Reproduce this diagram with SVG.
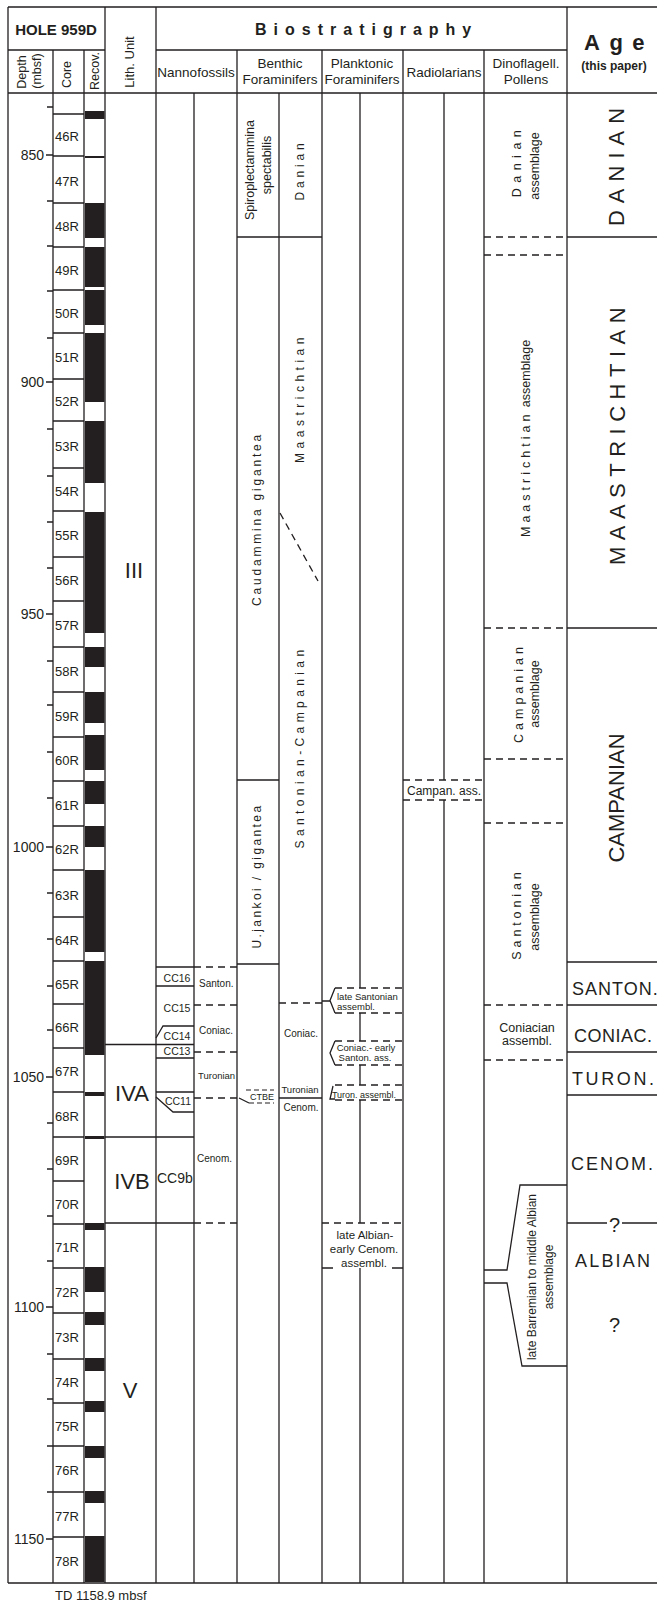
<svg xmlns="http://www.w3.org/2000/svg" width="657" height="1603" viewBox="0 0 657 1603">
<style>
.ln{stroke:#231f20;stroke-width:1.3;fill:none}
.ds{stroke:#231f20;stroke-width:1.3;fill:none;stroke-dasharray:7 5}
.blk{fill:#231f20}
.t{font-family:"Liberation Sans",Arial,sans-serif;fill:#231f20}
.b{font-weight:bold}
.m{text-anchor:middle}
.e{text-anchor:end}
</style>
<rect width="657" height="1603" fill="#fff"/>

<g id="connectors">
<path class="ln" d="M8 7H657 M8 93H657 M8 1583H657 M8 50H105 M156 50H567
M8 7V1583 M53 50V1583 M84 50V1583 M105 7V1583 M156 7V1583 M194 93V1583 M237 50V1583 M279 93V1583 M322 50V1583 M403 50V1583 M444 93V780 M444 800V1583 M484 50V1583 M567 7V1583
M360 93V988 M360 1013V1041 M360 1065V1085 M360 1100V1223 M360 1268V1583"/>
</g>

<g id="depth-scale">
<path class="ln" d="M47 107H53 M46 155H53 M47 201H53 M47 246H53 M47 291H53 M47 338H53 M46 382H53 M47 429H53 M47 476H53 M47 522H53 M47 568H53 M46 614H53 M47 661H53 M47 705H53 M47 752H53 M47 798H53 M46 847H53 M47 893H53 M47 939H53 M47 986H53 M47 1030H53 M46 1077H53 M47 1123H53 M47 1169H53 M47 1216H53 M47 1261H53 M46 1307H53 M47 1354H53 M47 1399H53 M47 1446H53 M47 1492H53 M46 1539H53"/>
<g class="t e" font-size="14">
<text x="44" y="160">850</text>
<text x="44" y="387">900</text>
<text x="44" y="619">950</text>
<text x="44" y="852">1000</text>
<text x="44" y="1082">1050</text>
<text x="44" y="1312">1100</text>
<text x="44" y="1544">1150</text>
</g>
</g>

<g id="cores">
<path class="ln" d="M53 114H84 M53 156H84 M53 203H84 M53 247H84 M53 290H84 M53 333H84 M53 379H84 M53 421H84 M53 468H84 M53 511H84 M53 557H84 M53 601H84 M53 647H84 M53 692H84 M53 737H84 M53 781H84 M53 826H84 M53 870H84 M53 917H84 M53 961H84 M53 1004H84 M53 1048H84 M53 1092H84 M53 1137H84 M53 1181H84 M53 1224H84 M53 1268H84 M53 1313H84 M53 1359H84 M53 1403H84 M53 1446H84 M53 1492H84 M53 1537H84"/>
<g class="t" font-size="13">
<text x="55" y="141">46R</text>
<text x="55" y="185.5">47R</text>
<text x="55" y="231">48R</text>
<text x="55" y="274.5">49R</text>
<text x="55" y="317.5">50R</text>
<text x="55" y="362">51R</text>
<text x="55" y="406">52R</text>
<text x="55" y="450.5">53R</text>
<text x="55" y="495.5">54R</text>
<text x="55" y="540">55R</text>
<text x="55" y="585">56R</text>
<text x="55" y="630">57R</text>
<text x="55" y="675.5">58R</text>
<text x="55" y="720.5">59R</text>
<text x="55" y="765">60R</text>
<text x="55" y="809.5">61R</text>
<text x="55" y="854">62R</text>
<text x="55" y="899.5">63R</text>
<text x="55" y="945">64R</text>
<text x="55" y="988.5">65R</text>
<text x="55" y="1032">66R</text>
<text x="55" y="1076">67R</text>
<text x="55" y="1120.5">68R</text>
<text x="55" y="1165">69R</text>
<text x="55" y="1208.5">70R</text>
<text x="55" y="1252">71R</text>
<text x="55" y="1296.5">72R</text>
<text x="55" y="1342">73R</text>
<text x="55" y="1387">74R</text>
<text x="55" y="1430.5">75R</text>
<text x="55" y="1475">76R</text>
<text x="55" y="1520.5">77R</text>
<text x="55" y="1566">78R</text>
</g>
</g>

<g id="recovery" class="blk">
<rect x="85" y="111" width="19.5" height="8"/>
<rect x="85" y="156" width="19.5" height="2"/>
<rect x="85" y="203" width="19.5" height="35"/>
<rect x="85" y="247" width="19.5" height="40"/>
<rect x="85" y="290" width="19.5" height="35"/>
<rect x="85" y="333" width="19.5" height="69"/>
<rect x="85" y="421" width="19.5" height="62"/>
<rect x="85" y="512" width="19.5" height="121"/>
<rect x="85" y="647" width="19.5" height="20"/>
<rect x="85" y="692" width="19.5" height="31"/>
<rect x="85" y="735" width="19.5" height="35"/>
<rect x="85" y="781" width="19.5" height="23"/>
<rect x="85" y="826" width="19.5" height="21"/>
<rect x="85" y="870" width="19.5" height="82"/>
<rect x="85" y="961" width="19.5" height="94"/>
<rect x="85" y="1092" width="19.5" height="4"/>
<rect x="85" y="1136" width="19.5" height="3"/>
<rect x="85" y="1223" width="19.5" height="7"/>
<rect x="85" y="1267" width="19.5" height="25"/>
<rect x="85" y="1312" width="19.5" height="13"/>
<rect x="85" y="1358" width="19.5" height="13"/>
<rect x="85" y="1401" width="19.5" height="11"/>
<rect x="85" y="1446" width="19.5" height="12"/>
<rect x="85" y="1491" width="19.5" height="12"/>
<rect x="85" y="1536" width="19.5" height="46"/>
</g>

<g id="header">
<text class="t b m" x="56" y="35" font-size="15">HOLE 959D</text>
<text class="t b" x="255" y="35" font-size="16" letter-spacing="7">Biostratigraphy</text>
<text class="t b" x="584" y="50" font-size="22" letter-spacing="9.5">Age</text>
<text class="t b m" x="614" y="70" font-size="12">(this paper)</text>
<g class="t m" font-size="12.5">
<text transform="translate(25.5,72) rotate(-90)">Depth</text>
<text transform="translate(41,71) rotate(-90)">(mbsf)</text>
<text transform="translate(71,74.5) rotate(-90)">Core</text>
<text transform="translate(99,71) rotate(-90)">Recov.</text>
</g>
<text class="t m" font-size="13" transform="translate(134,62) rotate(-90)">Lith. Unit</text>
<g class="t m" font-size="13.5">
<text x="196" y="77">Nannofossils</text>
<text x="280" y="68">Benthic</text>
<text x="280" y="84">Foraminifers</text>
<text x="362" y="68">Planktonic</text>
<text x="362" y="84">Foraminifers</text>
<text x="444" y="77">Radiolarians</text>
<text x="526" y="68">Dinoflagell.</text>
<text x="526" y="84">Pollens</text>
</g>
</g>

<g id="lithology">
<path class="ln" d="M105 1044.5H194 M105 1137H194 M105 1223H194"/>
<g class="t m" font-size="22">
<text x="134" y="578">III</text>
<text x="132" y="1101">IVA</text>
<text x="132" y="1189">IVB</text>
<text x="130" y="1398">V</text>
</g>
</g>

<g id="nannofossils">
<path class="ln" d="M156 967H194 M156 986H194 M156 1038L163 1026H194 M156 1058H194 M156 1092H194 M156 1097L173 1112H194"/>
<path class="ds" d="M194 967H237 M194 1005H237 M194 1052H237 M194 1098H239 M194 1223H237"/>
<g class="t m" font-size="10.5">
<text x="177" y="982">CC16</text>
<text x="177" y="1012">CC15</text>
<text x="177" y="1040">CC14</text>
<text x="177" y="1055">CC13</text>
<text x="178" y="1105">CC11</text>
</g>
<text class="t" x="157" y="1183" font-size="14">CC9b</text>
<g class="t" font-size="10">
<text x="199" y="987">Santon.</text>
<text x="199" y="1034">Coniac.</text>
<text x="198" y="1079" font-size="9.5">Turonian</text>
<text x="197" y="1162">Cenom.</text>
</g>
</g>

<g id="benthic">
<path class="ln" d="M237 237H322 M237 780H279 M237 964H279 M279 1098H322 M239 1098L249 1103 M322 1001H330"/>
<path class="ds" d="M280 513L318 581 M279 1003H322"/>
<path d="M246 1090H274 M249 1103H274" stroke="#231f20" stroke-width="1.1" stroke-dasharray="5 3" fill="none"/>
<text class="t m" x="262" y="1100" font-size="9">CTBE</text>
<g class="t m" font-size="12.5">
<text transform="translate(254,170) rotate(-90)">Spiroplectammina</text>
<text transform="translate(271,165) rotate(-90)">spectabilis</text>
</g>
<g class="t m" font-size="12">
<text transform="translate(304,170) rotate(-90)" letter-spacing="3.8">Danian</text>
<text transform="translate(304,398) rotate(-90)" letter-spacing="4.5">Maastrichtian</text>
<text transform="translate(261,519) rotate(-90)" letter-spacing="2.8">Caudammina gigantea</text>
<text transform="translate(304,747) rotate(-90)" letter-spacing="4.4">Santonian-Campanian</text>
<text transform="translate(261,876) rotate(-90)" letter-spacing="2.4">U.jankoi / gigantea</text>
</g>
<g class="t m" font-size="10">
<text x="301" y="1037">Coniac.</text>
<text x="300" y="1093" font-size="9.5">Turonian</text>
<text x="301" y="1111">Cenom.</text>
</g>
</g>

<g id="planktonic">
<path class="ds" d="M335 988H403 M335 1013H403 M335 1041H403 M335 1065H403 M335 1085H403 M335 1100H403 M322 1223H403"/>
<path class="ln" d="M335 988L330 1000.5L335 1013 M335 1041L330 1053L335 1065 M333 1086L330 1099H335 M322 1268H333 M392 1268H403"/>
<g class="t" font-size="9.5">
<text x="337" y="1000">late Santonian</text>
<text x="337" y="1009.5">assembl.</text>
<text x="366" y="1051" class="m">Coniac.- early</text>
<text x="365" y="1061" class="m">Santon. ass.</text>
<text x="364" y="1098" class="m" font-size="9">Turon. assembl.</text>
</g>
<g class="t m" font-size="11.5">
<text x="365" y="1239">late Albian-</text>
<text x="364" y="1253">early Cenom.</text>
<text x="364" y="1267">assembl.</text>
</g>
</g>

<g id="radiolarians">
<path class="ds" d="M403 780H484 M403 800H484"/>
<text class="t m" x="444" y="795" font-size="12">Campan. ass.</text>
</g>

<g id="dinoflagellates">
<path class="ds" d="M484 237H567 M484 255H567 M484 628H567 M484 759H567 M484 823H567 M484 1005H567 M484 1060H567"/>
<path class="ln" d="M567 1185H520L507 1270H484 M484 1283H507L522 1366H567"/>
<g class="t m" font-size="12.5">
<text transform="translate(521,161) rotate(-90)" letter-spacing="5.5">Danian</text>
<text transform="translate(539,166) rotate(-90)">assemblage</text>
<text transform="translate(530,537) rotate(-90)" text-anchor="start"><tspan letter-spacing="4">Maastrichtian</tspan> assemblage</text>
<text transform="translate(523,693) rotate(-90)" letter-spacing="4">Campanian</text>
<text transform="translate(539,694) rotate(-90)">assemblage</text>
<text transform="translate(521,914) rotate(-90)" letter-spacing="3.9">Santonian</text>
<text transform="translate(539,917) rotate(-90)">assemblage</text>
<text x="527" y="1032">Coniacian</text>
<text x="527" y="1045">assembl.</text>
</g>
<g class="t m" font-size="12">
<text transform="translate(536,1277) rotate(-90)">late Barremian to middle Albian</text>
<text transform="translate(553,1277) rotate(-90)">assemblage</text>
</g>
</g>

<g id="age">
<path class="ln" d="M567 237H657 M567 628H657 M567 962H657 M567 1005H657 M567 1052H657 M567 1095H657 M567 1223H607 M622 1223H657"/>
<g class="t m" font-size="22">
<text transform="translate(624,163.5) rotate(-90)" letter-spacing="7">DANIAN</text>
<text transform="translate(625,433) rotate(-90)" letter-spacing="6.5">MAASTRICHTIAN</text>
<text transform="translate(624,798) rotate(-90)">CAMPANIAN</text>
</g>
<g class="t" font-size="18">
<text x="572" y="995" letter-spacing="1">SANTON.</text>
<text x="574" y="1042" letter-spacing="0.5">CONIAC.</text>
<text x="572" y="1085" letter-spacing="2.6">TURON.</text>
<text x="571" y="1170" letter-spacing="2">CENOM.</text>
<text x="575" y="1267" letter-spacing="2.2">ALBIAN</text>
</g>
<g class="t m" font-size="20">
<text x="614.5" y="1232">?</text>
<text x="614.5" y="1332">?</text>
</g>
</g>

<text id="td" class="t" x="55" y="1600" font-size="13">TD 1158.9 mbsf</text>
</svg>
